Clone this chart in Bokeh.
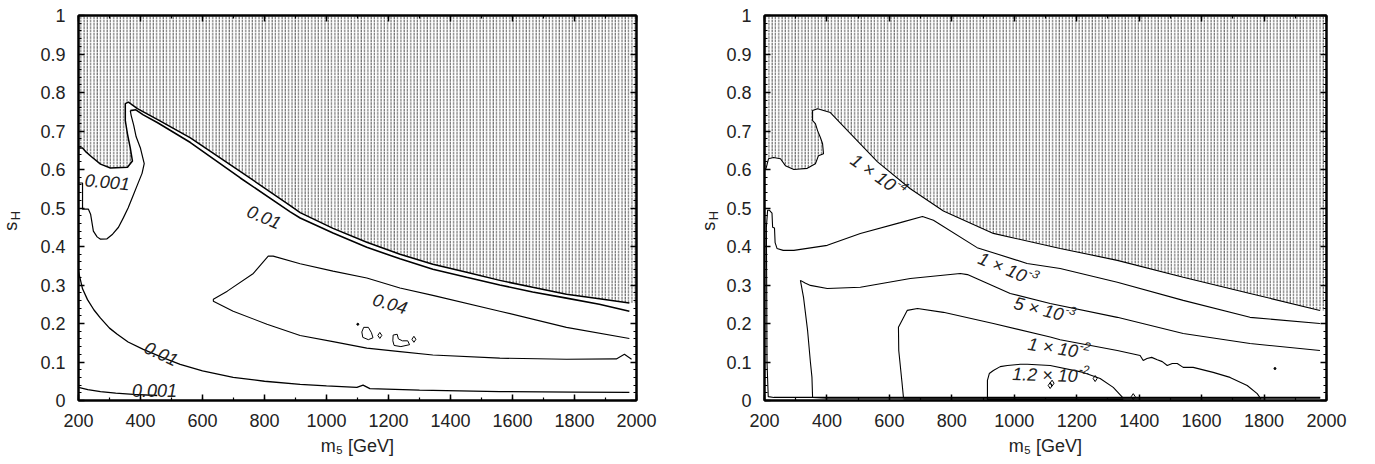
import math
from bokeh.plotting import figure
from bokeh.models import LinearAxis, FixedTicker, ColumnDataSource, Range1d
from bokeh.layouts import row
from bokeh.embed import file_html
from bokeh.resources import INLINE
from bokeh.core.properties import value

# ---------------- data ----------------
X_TICKS = [200, 400, 600, 800, 1000, 1200, 1400, 1600, 1800, 2000]
X_MINOR = list(range(200, 2001, 100))
Y_TICKS = [0, 0.1, 0.2, 0.3, 0.4, 0.5, 0.6, 0.7, 0.8, 0.9, 1.0]
Y_TICK_LABELS = ["0", "0.1", "0.2", "0.3", "0.4", "0.5", "0.6", "0.7", "0.8", "0.9", "1"]
Y_MINOR = [round(i * 0.02, 2) for i in range(51)]
X_LABEL = "m\u2085 [GeV]"
Y_LABEL_MAIN = "s"
Y_LABEL_SUB = "H"

# Left panel: excluded-region boundary
L_excl_m = [200, 213, 225, 239, 271, 303, 358, 374, 367, 358, 351, 351, 361, 390, 454, 561, 731, 883, 915, 1021, 1130, 1237, 1343, 1452, 1559, 1665, 1774, 1880, 1977]
L_excl_s = [0.656, 0.656, 0.645, 0.635, 0.614, 0.604, 0.606, 0.622, 0.656, 0.692, 0.727, 0.771, 0.775, 0.758, 0.73, 0.682, 0.59, 0.506, 0.488, 0.447, 0.411, 0.38, 0.354, 0.333, 0.312, 0.294, 0.276, 0.264, 0.253]
# Left panel: contours
L_c001u_m = [200, 213, 213, 232, 239, 248, 260, 271, 292, 310, 329, 345, 360, 375, 390, 405, 412, 400, 386, 378, 370, 367]
L_c001u_s = [0.565, 0.565, 0.497, 0.497, 0.484, 0.44, 0.425, 0.419, 0.42, 0.432, 0.45, 0.475, 0.5, 0.53, 0.56, 0.59, 0.615, 0.655, 0.685, 0.715, 0.74, 0.753]
L_c01u_m = [367, 385, 409, 454, 561, 722, 883, 915, 1021, 1130, 1237, 1343, 1452, 1559, 1665, 1774, 1880, 1977]
L_c01u_s = [0.753, 0.755, 0.742, 0.722, 0.67, 0.578, 0.49, 0.474, 0.435, 0.398, 0.368, 0.341, 0.32, 0.30, 0.282, 0.266, 0.25, 0.232]
L_c04_m = [1984, 1961, 1935, 1774, 1559, 1343, 1237, 1130, 1021, 915, 808, 699, 635, 635, 680, 764, 812, 828, 915, 1021, 1130, 1237, 1343, 1559, 1774, 1977]
L_c04_s = [0.107, 0.12, 0.108, 0.107, 0.11, 0.118, 0.127, 0.136, 0.153, 0.169, 0.198, 0.232, 0.258, 0.263, 0.284, 0.33, 0.375, 0.375, 0.355, 0.336, 0.318, 0.292, 0.273, 0.232, 0.19, 0.161]
L_c01l_m = [200, 213, 229, 250, 271, 300, 325, 360, 409, 470, 528, 600, 699, 800, 915, 1000, 1098, 1118, 1140, 1300, 1559, 1800, 1977]
L_c01l_s = [0.335, 0.29, 0.262, 0.235, 0.214, 0.188, 0.172, 0.152, 0.133, 0.112, 0.094, 0.077, 0.06, 0.05, 0.042, 0.038, 0.034, 0.04, 0.031, 0.027, 0.023, 0.022, 0.021]
L_c001l_m = [200, 230, 271, 320, 377, 454]
L_c001l_s = [0.034, 0.028, 0.023, 0.019, 0.016, 0.013]
L_isl1_m = [1120, 1135, 1145, 1150, 1135, 1117, 1114, 1120]
L_isl1_s = [0.19, 0.19, 0.176, 0.163, 0.158, 0.164, 0.178, 0.19]
L_isl2_m = [1215, 1228, 1232, 1245, 1262, 1268, 1240, 1218, 1214, 1215]
L_isl2_s = [0.17, 0.172, 0.16, 0.155, 0.155, 0.145, 0.14, 0.143, 0.155, 0.17]
L_diam_m = [1172, 1282]
L_diam_s = [0.169, 0.159]
L_dot_m = [1101]
L_dot_s = [0.198]
L_lab_text = ["0.001", "0.01", "0.04", "0.01", "0.001"]
L_lab_m = [293, 799, 1205, 467, 445]
L_lab_s = [0.568, 0.477, 0.252, 0.122, 0.026]
L_lab_ang = [-0.09, -0.4, -0.28, -0.44, 0.0]

# Right panel: excluded-region boundary (lower edge = 1e-4 contour)
R_excl_m = [200, 205, 213, 229, 251, 267, 294, 337, 363, 373, 389, 386, 379, 370, 363, 354, 354, 370, 411, 466, 562, 667, 773, 933, 1147, 1330, 1541, 1755, 1979]
R_excl_s = [0.60, 0.603, 0.628, 0.631, 0.628, 0.61, 0.6, 0.603, 0.615, 0.636, 0.641, 0.667, 0.683, 0.701, 0.719, 0.727, 0.753, 0.758, 0.748, 0.701, 0.62, 0.55, 0.492, 0.434, 0.395, 0.364, 0.32, 0.278, 0.234]
R_c1e3_m = [1980, 1500, 1000, 600, 300, 230, 212, 208, 207, 206, 210, 216, 224, 226, 232, 234, 240, 260, 294, 401, 507, 635, 706, 741, 881, 1041, 1147, 1330, 1541, 1755, 1979]
R_c1e3_s = [0.008, 0.008, 0.008, 0.008, 0.008, 0.008, 0.01, 0.1, 0.3, 0.45, 0.494, 0.494, 0.487, 0.45, 0.448, 0.41, 0.395, 0.39, 0.39, 0.403, 0.434, 0.462, 0.478, 0.468, 0.397, 0.356, 0.343, 0.307, 0.26, 0.216, 0.2]
R_c5e3_m = [1980, 1200, 800, 400, 354, 352, 347, 338, 325, 315, 330, 347, 401, 507, 667, 827, 850, 987, 1115, 1330, 1541, 1755, 1979]
R_c5e3_s = [0.006, 0.006, 0.006, 0.006, 0.008, 0.06, 0.1, 0.182, 0.268, 0.312, 0.305, 0.299, 0.291, 0.294, 0.317, 0.33, 0.327, 0.278, 0.252, 0.216, 0.174, 0.148, 0.13]
R_c1e2_m = [645, 1790, 1778, 1746, 1691, 1637, 1573, 1541, 1522, 1506, 1490, 1474, 1458, 1440, 1425, 1413, 1403, 1330, 1147, 1115, 933, 773, 690, 657, 629, 630, 640, 645]
R_c1e2_s = [0.004, 0.004, 0.018, 0.039, 0.06, 0.073, 0.086, 0.086, 0.096, 0.096, 0.091, 0.101, 0.106, 0.112, 0.109, 0.104, 0.117, 0.13, 0.158, 0.165, 0.2, 0.229, 0.239, 0.234, 0.19, 0.13, 0.05, 0.008]
R_c12e2_m = [1349, 914, 914, 920, 933, 955, 978, 1019, 1042, 1115, 1221, 1275, 1317, 1349]
R_c12e2_s = [0.003, 0.003, 0.052, 0.07, 0.078, 0.088, 0.091, 0.094, 0.094, 0.091, 0.073, 0.057, 0.034, 0.006]
R_diam_m = [1259, 1115, 1121, 1381]
R_diam_s = [0.057, 0.039, 0.045, 0.01]
R_dot_m = [1835]
R_dot_s = [0.083]
R_lab_mant = ["1 \u00d7 10", "1 \u00d7 10", "5 \u00d7 10", "1 \u00d7 10", "1.2 \u00d7 10"]
R_lab_exp = ["-4", "-3", "-3", "-2", "-2"]
R_lab_m = [548, 962, 1078, 1124, 1098]
R_lab_s = [0.592, 0.346, 0.238, 0.137, 0.066]
R_lab_ang = [-0.61, -0.40, -0.25, -0.16, -0.03]

FONT = "Liberation Sans"
INK = "#222222"
FIG_H = 464
# Arial/Liberation advance widths (em) used to place superscripts after the mantissa
CHAR_W = {"1": 0.556, "2": 0.556, "5": 0.556, "0": 0.556, ".": 0.278, " ": 0.278, "\u00d7": 0.584}


def style_axis(ax):
    ax.axis_line_width = 2
    ax.axis_line_color = "black"
    ax.major_tick_in = 6
    ax.major_tick_out = 0
    ax.minor_tick_in = 3
    ax.minor_tick_out = 0
    ax.major_tick_line_width = 1.5
    ax.minor_tick_line_width = 1.2
    ax.major_tick_line_color = "black"
    ax.minor_tick_line_color = "black"
    ax.major_label_text_font = FONT
    ax.major_label_text_color = INK
    ax.major_label_text_font_size = "18px"


def make_fig(frame_w, border_l, border_r):
    p = figure(frame_width=frame_w, frame_height=385, x_range=Range1d(200, 2000), y_range=Range1d(0, 1),
               min_border_left=border_l, min_border_right=border_r, min_border_top=15, min_border_bottom=64,
               output_backend="svg", toolbar_location=None, tools="")
    p.grid.visible = False
    p.outline_line_color = "black"
    p.outline_line_width = 2
    xt = FixedTicker(ticks=X_TICKS, minor_ticks=X_MINOR)
    yt = FixedTicker(ticks=Y_TICKS, minor_ticks=Y_MINOR)
    xb = p.below[0]
    yl = p.left[0]
    xb.ticker = xt
    yl.ticker = yt
    yl.major_label_overrides = dict(zip(Y_TICKS, Y_TICK_LABELS))
    style_axis(xb)
    style_axis(yl)
    xb.major_label_standoff = 13
    yl.major_label_standoff = 13
    xb.axis_label = X_LABEL
    xb.axis_label_text_font = FONT
    xb.axis_label_text_font_style = "normal"
    xb.axis_label_text_font_size = "18px"
    xb.axis_label_text_color = INK
    xb.axis_label_standoff = 6
    xa = LinearAxis(ticker=xt, major_label_overrides={t: "" for t in X_TICKS}, major_label_standoff=0)
    yr = LinearAxis(ticker=yt, major_label_overrides={t: "" for t in Y_TICKS}, major_label_standoff=0)
    style_axis(xa)
    style_axis(yr)
    p.add_layout(xa, "above")
    p.add_layout(yr, "right")
    return p


def ylabel_fig(w, cx):
    """Narrow strip holding the rotated y-axis title s_H (pixel coordinates)."""
    q = figure(width=w, height=FIG_H, x_range=Range1d(0, w), y_range=Range1d(0, FIG_H),
               min_border=0, output_backend="svg", toolbar_location=None, tools="",
               x_axis_type=None, y_axis_type=None)
    q.grid.visible = False
    q.outline_line_color = None
    cy = FIG_H - 254
    q.text(x=[cx], y=[cy], text=[Y_LABEL_MAIN], angle=math.pi / 2, text_font=value(FONT),
           text_font_size="18px", text_color=INK, text_align="center", text_baseline="middle")
    q.text(x=[cx + 5], y=[cy + 13], text=[Y_LABEL_SUB], angle=math.pi / 2, text_font=value(FONT),
           text_font_size="13px", text_color=INK, text_align="center", text_baseline="middle")
    return q


def hatch_region(p, bm, bs, lw):
    xs = list(bm) + [2000, 2000, 200]
    ys = list(bs) + [bs[-1], 1.0, 1.0]
    p.patch(xs, ys, fill_color=None, line_color=None, hatch_pattern="vertical_dash",
            hatch_scale=3.3, hatch_color="#444444", hatch_weight=1, hatch_alpha=0.9)
    p.line(list(bm), list(bs), line_color="black", line_width=lw)


# ---------------- left panel ----------------
q1 = ylabel_fig(22, 10)
p1 = make_fig(558, 56, 40)
hatch_region(p1, L_excl_m, L_excl_s, 1.5)
p1.line(L_c001u_m, L_c001u_s, line_color="black", line_width=1.2)
p1.line(L_c01u_m, L_c01u_s, line_color="black", line_width=1.6)
p1.line(L_c04_m, L_c04_s, line_color="black", line_width=1.1)
p1.line(L_c01l_m, L_c01l_s, line_color="black", line_width=1.3)
p1.line(L_c001l_m, L_c001l_s, line_color="black", line_width=1.3)
p1.line(L_isl1_m, L_isl1_s, line_color="black", line_width=1)
p1.line(L_isl2_m, L_isl2_s, line_color="black", line_width=1)
p1.scatter(L_diam_m, L_diam_s, marker="diamond", size=6, fill_color=None, line_color="black", line_width=1)
p1.scatter(L_dot_m, L_dot_s, marker="circle", size=2, fill_color="black", line_color="black")
src1 = ColumnDataSource(dict(x=L_lab_m, y=L_lab_s, t=L_lab_text, a=L_lab_ang))
p1.text(x="x", y="y", text="t", angle="a", source=src1, text_font=value(FONT), text_font_style="italic",
        text_font_size="18px", text_color=INK, text_align="center", text_baseline="middle")

# ---------------- right panel ----------------
q2 = ylabel_fig(44, 32)
p2 = make_fig(562, 44, 40)
hatch_region(p2, R_excl_m, R_excl_s, 1.1)
p2.line(R_c1e3_m, R_c1e3_s, line_color="black", line_width=1.1)
p2.line(R_c5e3_m, R_c5e3_s, line_color="black", line_width=1.1)
p2.line(R_c1e2_m, R_c1e2_s, line_color="black", line_width=1.1)
p2.line(R_c12e2_m, R_c12e2_s, line_color="black", line_width=1.1)
p2.scatter(R_diam_m, R_diam_s, marker="diamond", size=6, fill_color=None, line_color="black", line_width=1)
p2.scatter(R_dot_m, R_dot_s, marker="circle", size=2, fill_color="black", line_color="black")
src2 = ColumnDataSource(dict(x=R_lab_m, y=R_lab_s, t=R_lab_mant, a=R_lab_ang))
p2.text(x="x", y="y", text="t", angle="a", source=src2, text_font=value(FONT), text_font_style="italic",
        text_font_size="18px", text_color=INK, text_align="center", text_baseline="middle")
# superscript exponents, placed just after each mantissa along the rotated baseline
xo, yo = [], []
for t, a in zip(R_lab_mant, R_lab_ang):
    along = 0.5 * sum(CHAR_W.get(c, 0.556) for c in t) * 18 + 1.0
    up = 7.0
    xo.append(along * math.cos(a) - up * math.sin(a))
    yo.append(-along * math.sin(a) - up * math.cos(a))
src3 = ColumnDataSource(dict(x=R_lab_m, y=R_lab_s, t=R_lab_exp, a=R_lab_ang, xo=xo, yo=yo))
p2.text(x="x", y="y", text="t", angle="a", x_offset="xo", y_offset="yo", source=src3,
        text_font=value(FONT), text_font_style="italic", text_font_size="12px", text_color=INK,
        text_align="left", text_baseline="middle")

layout = row(q1, p1, q2, p2)
open("out.html", "w").write(file_html(layout, INLINE))
